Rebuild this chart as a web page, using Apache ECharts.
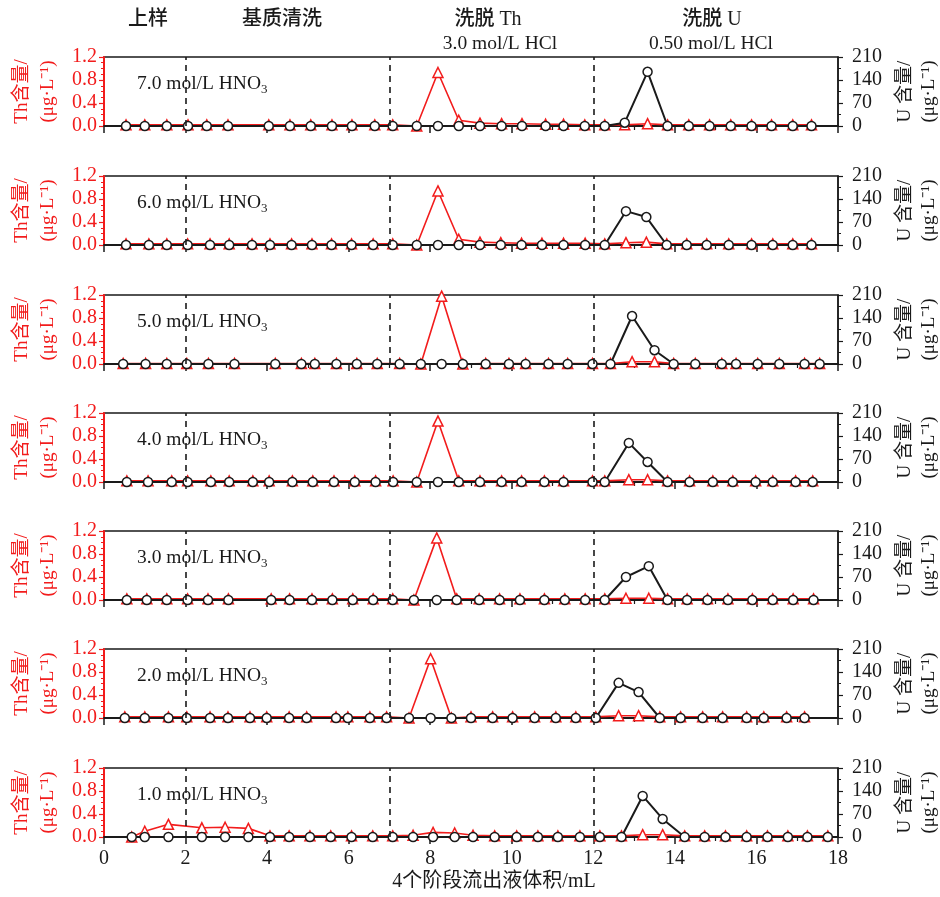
<!DOCTYPE html>
<html>
<head>
<meta charset="utf-8">
<script src="https://cdn.jsdelivr.net/npm/echarts@6/dist/echarts.min.js"></script>
<style>
  html, body { margin: 0; padding: 0; background: #fff; }
  #chart { width: 940px; height: 897px; }
</style>
</head>
<body>
<div id="chart"></div>
<script>
// panel labels (HNO3 concentration), top to bottom
const panelLabels = ['7.0', '6.0', '5.0', '4.0', '3.0', '2.0', '1.0'];

// outflow volume (mL) of each sample, per panel
const vol7 = [0.54, 1.0, 1.54, 2.06, 2.52, 3.04, 4.04, 4.56, 5.07, 5.59, 6.08, 6.64, 7.08, 7.67, 8.19, 8.7, 9.22, 9.75, 10.25, 10.83, 11.27, 11.79, 12.28, 12.77, 13.33, 13.82, 14.34, 14.85, 15.37, 15.88, 16.37, 16.89, 17.35];
const th7  = [0.02, 0.02, 0.02, 0.02, 0.02, 0.02, 0.02, 0.02, 0.02, 0.02, 0.02, 0.02, 0.02, 0.0, 0.93, 0.1, 0.05, 0.04, 0.04, 0.03, 0.03, 0.02, 0.02, 0.02, 0.04, 0.02, 0.02, 0.02, 0.02, 0.02, 0.02, 0.02, 0.02];
const u7   = [0, 0, 0, 0, 0, 0, 0, 0, 0, 0, 0, 0, 0, 0, 0, 0, 0, 0, 0, 0, 0, 0, 0, 10, 165, 0, 0, 0, 0, 0, 0, 0, 0];

const vol6 = [0.54, 1.1, 1.54, 2.05, 2.6, 3.07, 3.63, 4.07, 4.6, 5.1, 5.58, 6.07, 6.6, 7.08, 7.67, 8.19, 8.7, 9.22, 9.73, 10.24, 10.74, 11.27, 11.8, 12.28, 12.8, 13.3, 13.8, 14.29, 14.78, 15.32, 15.88, 16.4, 16.89, 17.35];
const th6  = [0.02, 0.02, 0.02, 0.02, 0.02, 0.02, 0.02, 0.02, 0.02, 0.02, 0.02, 0.02, 0.02, 0.02, 0.0, 0.94, 0.1, 0.05, 0.04, 0.03, 0.03, 0.03, 0.03, 0.02, 0.04, 0.05, 0.02, 0.02, 0.02, 0.02, 0.02, 0.02, 0.02, 0.02];
const u6   = [0, 0, 0, 0, 0, 0, 0, 0, 0, 0, 0, 0, 0, 0, 0, 0, 0, 0, 0, 0, 0, 0, 0, 0, 103, 85, 0, 0, 0, 0, 0, 0, 0, 0];

const vol5 = [0.47, 1.02, 1.54, 2.03, 2.56, 3.2, 4.2, 4.84, 5.17, 5.7, 6.2, 6.7, 7.25, 7.77, 8.28, 8.8, 9.36, 9.93, 10.34, 10.9, 11.37, 11.98, 12.42, 12.95, 13.5, 13.97, 14.5, 15.15, 15.5, 16.03, 16.56, 17.18, 17.55];
const th5  = [0.01, 0.01, 0.01, 0.01, 0.01, 0.01, 0.01, 0.01, 0.01, 0.01, 0.01, 0.01, 0.01, 0.0, 1.18, 0.0, 0.01, 0.01, 0.01, 0.01, 0.01, 0.01, 0.01, 0.04, 0.04, 0.01, 0.01, 0.01, 0.01, 0.01, 0.01, 0.01, 0.01];
const u5   = [0, 0, 0, 0, 0, 0, 0, 0, 0, 0, 0, 0, 0, 0, 0, 0, 0, 0, 0, 0, 0, 0, 0, 146, 42, 0, 0, 0, 0, 0, 0, 0, 0];

const vol4 = [0.56, 1.08, 1.66, 2.05, 2.62, 3.07, 3.65, 4.05, 4.62, 5.12, 5.64, 6.15, 6.66, 7.09, 7.67, 8.19, 8.7, 9.22, 9.75, 10.24, 10.8, 11.27, 11.98, 12.28, 12.87, 13.33, 13.82, 14.36, 14.93, 15.42, 15.98, 16.4, 16.96, 17.38];
const th4  = [0.02, 0.02, 0.02, 0.02, 0.02, 0.02, 0.02, 0.02, 0.02, 0.02, 0.02, 0.02, 0.02, 0.02, 0.0, 1.06, 0.02, 0.02, 0.02, 0.02, 0.02, 0.02, 0.02, 0.02, 0.04, 0.04, 0.02, 0.02, 0.02, 0.02, 0.02, 0.02, 0.02, 0.02];
const u4   = [0, 0, 0, 0, 0, 0, 0, 0, 0, 0, 0, 0, 0, 0, 0, 0, 0, 0, 0, 0, 0, 0, 0, 0, 119, 61, 0, 0, 0, 0, 0, 0, 0, 0];

const vol3 = [0.56, 1.05, 1.54, 2.05, 2.55, 3.05, 4.1, 4.55, 5.1, 5.6, 6.1, 6.6, 7.08, 7.6, 8.16, 8.65, 9.2, 9.7, 10.2, 10.8, 11.3, 11.8, 12.28, 12.8, 13.36, 13.82, 14.3, 14.8, 15.3, 15.9, 16.4, 16.9, 17.4];
const th3  = [0.02, 0.02, 0.02, 0.02, 0.02, 0.02, 0.02, 0.02, 0.02, 0.02, 0.02, 0.02, 0.02, 0.0, 1.08, 0.02, 0.02, 0.02, 0.02, 0.02, 0.02, 0.02, 0.02, 0.03, 0.03, 0.02, 0.02, 0.02, 0.02, 0.02, 0.02, 0.02, 0.02];
const u3   = [0, 0, 0, 0, 0, 0, 0, 0, 0, 0, 0, 0, 0, 0, 0, 0, 0, 0, 0, 0, 0, 0, 0, 70, 103, 0, 0, 0, 0, 0, 0, 0, 0];

const vol2 = [0.51, 1.0, 1.58, 2.03, 2.6, 3.04, 3.58, 3.99, 4.54, 4.97, 5.69, 5.98, 6.52, 6.93, 7.48, 8.01, 8.52, 9.0, 9.53, 10.02, 10.56, 11.08, 11.57, 12.06, 12.62, 13.11, 13.63, 14.14, 14.68, 15.17, 15.76, 16.18, 16.74, 17.18];
const th2  = [0.02, 0.02, 0.02, 0.02, 0.02, 0.02, 0.02, 0.02, 0.02, 0.02, 0.02, 0.02, 0.02, 0.02, 0.0, 1.03, 0.0, 0.02, 0.02, 0.02, 0.02, 0.02, 0.02, 0.02, 0.04, 0.04, 0.02, 0.02, 0.02, 0.02, 0.02, 0.02, 0.02, 0.02];
const u2   = [0, 0, 0, 0, 0, 0, 0, 0, 0, 0, 0, 0, 0, 0, 0, 0, 0, 0, 0, 0, 0, 0, 0, 0, 107, 79, 0, 0, 0, 0, 0, 0, 0, 0];

const vol1 = [0.68, 1.0, 1.58, 2.4, 2.97, 3.54, 4.07, 4.54, 5.05, 5.56, 6.07, 6.59, 7.08, 7.58, 8.07, 8.6, 9.05, 9.58, 10.12, 10.64, 11.13, 11.67, 12.16, 12.69, 13.21, 13.7, 14.24, 14.73, 15.24, 15.76, 16.27, 16.77, 17.25, 17.75];
const th1  = [0.0, 0.1, 0.22, 0.16, 0.17, 0.15, 0.02, 0.02, 0.02, 0.02, 0.02, 0.02, 0.02, 0.03, 0.08, 0.07, 0.03, 0.02, 0.02, 0.02, 0.02, 0.02, 0.02, 0.02, 0.04, 0.04, 0.02, 0.02, 0.02, 0.02, 0.02, 0.02, 0.02, 0.02];
const u1   = [0, 0, 0, 0, 0, 0, 0, 0, 0, 0, 0, 0, 0, 0, 0, 0, 0, 0, 0, 0, 0, 0, 0, 0, 125, 55, 0, 0, 0, 0, 0, 0, 0, 0];

const panelVol = [vol7, vol6, vol5, vol4, vol3, vol2, vol1];
const panelTh = [th7, th6, th5, th4, th3, th2, th1];
const panelU = [u7, u6, u5, u4, u3, u2, u1];

// stage boundaries (mL)
const stageLines = [2, 7, 12];

const RED = '#f21c1c';
const INK = '#1a1a1a';
const SERIF = '"Liberation Serif", "Noto Sans CJK SC", serif';

const tops = [57, 176, 295, 413, 531, 649, 768];
const plotH = 69;

const zip = (xs, ys) => xs.map((x, i) => [x, ys[i]]);

const grids = [], xAxes = [], yAxes = [], series = [], graphics = [];

tops.forEach((top, i) => {
  const last = i === tops.length - 1;
  grids.push({
    left: 104, right: 102, top: top, height: plotH,
    outerBoundsMode: 'none', containLabel: false,
    show: true, borderColor: INK, borderWidth: 1.5, backgroundColor: 'transparent'
  });
  xAxes.push({
    gridIndex: i, type: 'value', min: 0, max: 18, interval: 2,
    axisLine: { onZero: false, lineStyle: { color: INK, width: 2 } },
    axisTick: { show: true, length: 7, lineStyle: { color: INK, width: 1.5 } },
    minorTick: { show: true, splitNumber: 2, length: 4, lineStyle: { color: INK, width: 1.2 } },
    axisLabel: { show: last, color: INK, fontSize: 20, fontFamily: SERIF, margin: 12 },
    splitLine: { show: false }
  });
  yAxes.push({
    gridIndex: i, type: 'value', position: 'left', min: 0, max: 1.2, interval: 0.4,
    axisLine: { show: true, lineStyle: { color: RED, width: 2 } },
    axisTick: { show: true, length: 5, lineStyle: { color: RED, width: 1.2 } },
    minorTick: { show: true, splitNumber: 4, length: 3, lineStyle: { color: RED, width: 1 } },
    axisLabel: { color: RED, fontSize: 20, fontFamily: SERIF, margin: 7, formatter: v => v.toFixed(1) },
    splitLine: { show: false },
    name: 'Th含量/\n(μg·L⁻¹)', nameLocation: 'middle', nameRotate: 90, nameGap: 42,
    nameTextStyle: { color: RED, fontSize: 19, fontFamily: SERIF, lineHeight: 26 }
  });
  yAxes.push({
    gridIndex: i, type: 'value', position: 'right', min: 0, max: 210, interval: 70,
    axisLine: { show: true, lineStyle: { color: INK, width: 1.5 } },
    axisTick: { show: true, length: 5, lineStyle: { color: INK, width: 1.2 } },
    minorTick: { show: true, splitNumber: 2, length: 3, lineStyle: { color: INK, width: 1 } },
    axisLabel: { color: INK, fontSize: 20, fontFamily: SERIF, margin: 14 },
    splitLine: { show: false },
    name: 'U 含量/\n(μg·L⁻¹)', nameLocation: 'middle', nameRotate: 90, nameGap: 50,
    nameTextStyle: { color: INK, fontSize: 19, fontFamily: SERIF, lineHeight: 24 }
  });

  series.push({
    name: 'Th', type: 'line', xAxisIndex: i, yAxisIndex: 2 * i,
    data: zip(panelVol[i], panelTh[i]), clip: false,
    symbol: 'triangle', symbolSize: 10,
    itemStyle: { color: '#fff', borderColor: RED, borderWidth: 1.5 },
    lineStyle: { color: RED, width: 1.6 }, z: 3
  });
  series.push({
    name: 'U', type: 'line', xAxisIndex: i, yAxisIndex: 2 * i + 1,
    data: zip(panelVol[i], panelU[i]), clip: false,
    symbol: 'circle', symbolSize: 9,
    itemStyle: { color: '#fff', borderColor: INK, borderWidth: 1.5 },
    lineStyle: { color: INK, width: 2 }, z: 4,
    markLine: {
      silent: true, symbol: ['none', 'none'], label: { show: false },
      lineStyle: { color: INK, type: [6, 5], width: 1.6 },
      data: stageLines.map(v => ({ xAxis: v }))
    }
  });

  graphics.push({
    type: 'text', left: 137, top: top + 17,
    style: {
      text: '{a|' + panelLabels[i] + ' mol/L HNO}{s|3}',
      rich: {
        a: { fontSize: 19.5, fontFamily: SERIF, fill: INK },
        s: { fontSize: 13, fontFamily: SERIF, fill: INK, padding: [12, 0, 0, 0] }
      }
    }
  });
});

const headText = (text, x, y, size, weight) => ({
  type: 'text', x: x, y: y,
  style: { text: text, fill: INK, fontSize: size, fontWeight: weight || 'normal', fontFamily: SERIF, align: 'center', verticalAlign: 'middle' }
});
graphics.push(headText('上样', 148, 20, 20, 500));
graphics.push(headText('基质清洗', 282, 20, 20, 500));
graphics.push(headText('洗脱 Th', 488, 20, 20, 500));
graphics.push(headText('3.0 mol/L HCl', 500, 44, 19.5));
graphics.push(headText('洗脱 U', 712, 20, 20, 500));
graphics.push(headText('0.50 mol/L HCl', 711, 44, 19.5));
graphics.push(headText('4个阶段流出液体积/mL', 494, 882, 20));

const chart = echarts.init(document.getElementById('chart'), null, { renderer: 'canvas' });
chart.setOption({
  animation: false,
  backgroundColor: '#fff',
  grid: grids,
  xAxis: xAxes,
  yAxis: yAxes,
  series: series,
  graphic: graphics
});
</script>
</body>
</html>
